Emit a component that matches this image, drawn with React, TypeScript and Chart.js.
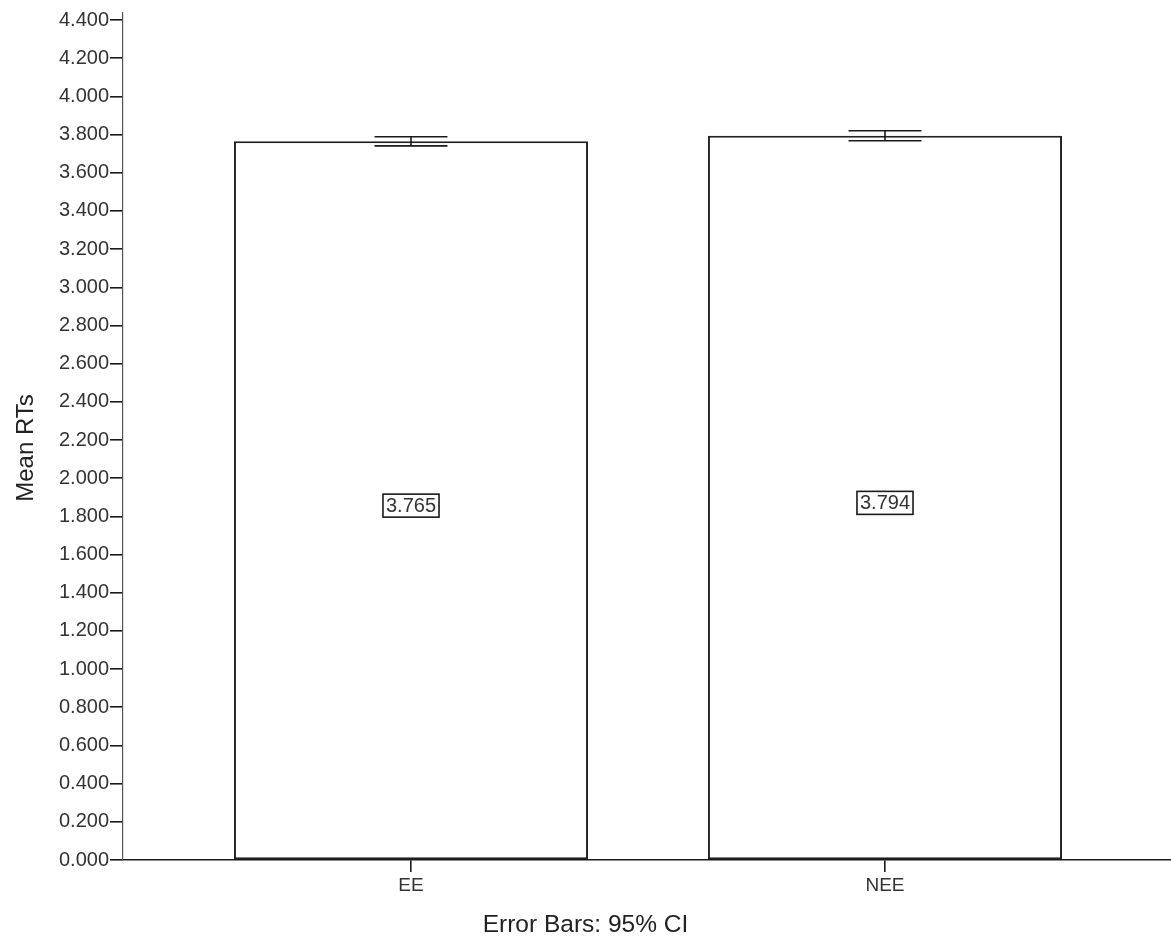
import { useEffect, useRef } from 'react';
import { Chart, registerables } from 'chart.js';

Chart.register(...registerables);

const categories = ['EE', 'NEE'];
const means = [3.765, 3.794];
const ciLow = [3.741, 3.768];
const ciHigh = [3.789, 3.82];
const yTicks = [0, 0.2, 0.4, 0.6, 0.8, 1.0, 1.2, 1.4, 1.6, 1.8, 2.0, 2.2, 2.4, 2.6, 2.8, 3.0, 3.2, 3.4, 3.6, 3.8, 4.0, 4.2, 4.4];
const yTitle = 'Mean RTs';
const footnote = 'Error Bars: 95% CI';

const FONT = '"Liberation Sans", Arial, Helvetica, sans-serif';

const overlay = {
  id: 'overlay',
  afterDatasetsDraw(chart: any) {
    const { ctx, scales } = chart;
    const y = scales.y;
    const meta = chart.getDatasetMeta(0);
    ctx.save();
    meta.data.forEach((bar: any, i: number) => {
      const cx = bar.x;
      const cap = bar.width * 0.103;
      const yl = y.getPixelForValue(ciLow[i]);
      const yh = y.getPixelForValue(ciHigh[i]);
      ctx.strokeStyle = '#1a1a1a';
      ctx.lineWidth = 1.6;
      ctx.beginPath();
      ctx.moveTo(cx, yl);
      ctx.lineTo(cx, yh);
      ctx.moveTo(cx - cap, yl);
      ctx.lineTo(cx + cap, yl);
      ctx.moveTo(cx - cap, yh);
      ctx.lineTo(cx + cap, yh);
      ctx.stroke();

      const ym = y.getPixelForValue(means[i] / 2) + 5;
      ctx.font = `20px ${FONT}`;
      const text = means[i].toFixed(3);
      const tw = ctx.measureText(text).width;
      const bw = tw + 6;
      const bh = 23;
      ctx.fillStyle = '#fff';
      ctx.fillRect(cx - bw / 2, ym - bh / 2, bw, bh);
      ctx.strokeStyle = '#1a1a1a';
      ctx.lineWidth = 1.6;
      ctx.strokeRect(cx - bw / 2, ym - bh / 2, bw, bh);
      ctx.fillStyle = '#333';
      ctx.textAlign = 'center';
      ctx.textBaseline = 'middle';
      ctx.fillText(text, cx, ym + 1);
    });

    ctx.fillStyle = '#222';
    ctx.font = `24.5px ${FONT}`;
    ctx.textAlign = 'center';
    ctx.textBaseline = 'alphabetic';
    ctx.fillText(footnote, chart.width / 2, 932);

    ctx.font = `24px ${FONT}`;
    ctx.translate(33, 448);
    ctx.rotate(-Math.PI / 2);
    ctx.textBaseline = 'alphabetic';
    ctx.fillText(yTitle, 0, 0);
    ctx.restore();
  },
};

export default function App() {
  const ref = useRef<HTMLCanvasElement | null>(null);

  useEffect(() => {
    if (!ref.current) return;
    const chart = new Chart(ref.current, {
      type: 'bar',
      data: {
        datasets: [
          {
            data: means.map((m, i) => ({ x: i, y: m })),
            backgroundColor: '#ffffff',
            borderColor: '#222',
            borderWidth: 2,
            borderSkipped: false,
            categoryPercentage: 1,
            barPercentage: 0.747,
          },
        ],
      },
      options: {
        animation: false,
        responsive: false,
        layout: { padding: { top: 12, right: 0, left: 0, bottom: 0 } },
        plugins: { legend: { display: false }, tooltip: { enabled: false }, title: { display: false } },
        scales: {
          x: {
            type: 'linear',
            offset: false,
            min: -0.6076,
            max: 1.6034,
            afterBuildTicks: (s: any) => {
              s.ticks = categories.map((_, i) => ({ value: i }));
            },
            afterFit: (s: any) => {
              s.height = 76;
            },
            ticks: {
              callback: (v: any) => categories[v] ?? '',
              font: { family: FONT, size: 19 },
              color: '#333',
              padding: 2,
              maxRotation: 0,
              autoSkip: false,
            },
            grid: { offset: false, drawOnChartArea: false, drawTicks: true, tickLength: 12, color: '#1a1a1a', lineWidth: 1.6 },
            border: { display: true, color: '#1a1a1a', width: 1.6 },
          },
          y: {
            type: 'linear',
            min: 0,
            max: 4.437,
            afterBuildTicks: (s: any) => {
              s.ticks = yTicks.map((v) => ({ value: v }));
            },
            afterFit: (s: any) => {
              s.width = 123;
            },
            ticks: {
              callback: (v: any) => Number(v).toFixed(3),
              font: { family: FONT, size: 20 },
              color: '#333',
              padding: 1,
              autoSkip: false,
            },
            grid: { drawOnChartArea: false, drawTicks: true, tickLength: 13, color: '#1a1a1a', lineWidth: 1.6 },
            border: { display: true, color: '#555', width: 1.2 },
          },
        },
      },
      plugins: [overlay],
    } as any);
    return () => chart.destroy();
  }, []);

  return (
    <div style={{ position: 'absolute', left: 0, top: 0, width: 1171, height: 936, background: '#fff' }}>
      <canvas ref={ref} width={1171} height={936} />
    </div>
  );
}
